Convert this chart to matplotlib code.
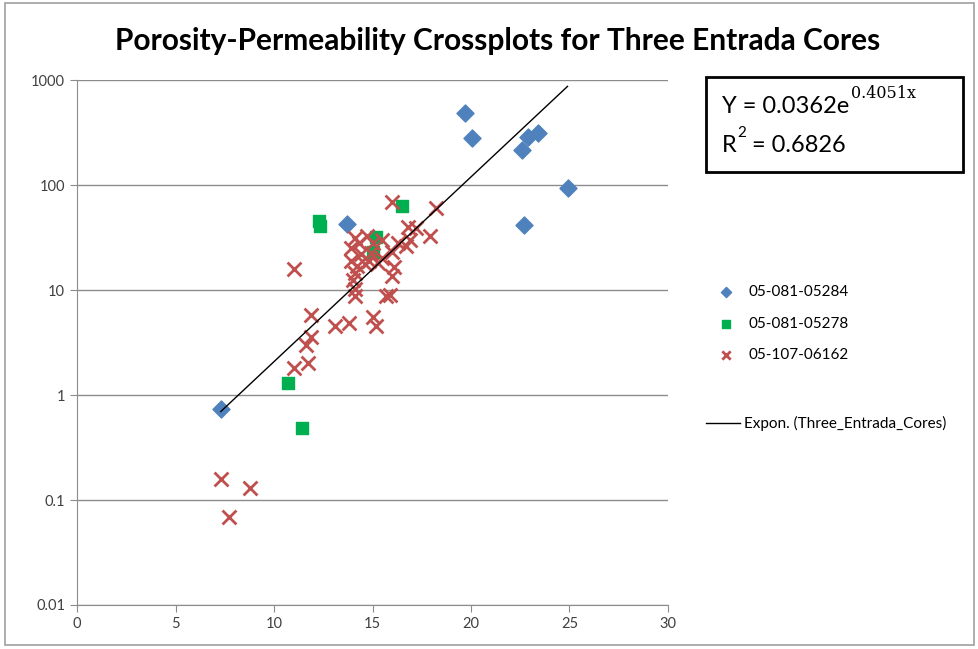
import numpy as np
import matplotlib
matplotlib.use('Agg')
from matplotlib import pyplot as plt
from matplotlib.patches import Rectangle

# porosity (%) / permeability (mD)
x_05284 = [7.3, 13.7, 19.7, 20.05, 22.6, 22.9, 23.4, 22.7, 24.9]
y_05284 = [0.74, 43, 485, 280, 215, 287, 313, 42, 94]

x_05278 = [12.3, 12.35, 16.5, 15.2, 15.0, 10.7, 11.4]
y_05278 = [45, 41, 63, 32, 23, 1.3, 0.48]

x_06162 = [7.3, 7.7, 8.8, 11.0, 11.7, 11.6, 11.9, 11.9, 11.0,
           13.1, 13.8, 14.1, 14.1, 14.0, 14.1, 14.2, 13.9, 13.9, 14.1,
           14.3, 14.4, 14.6, 14.9, 15.0, 15.5, 15.5, 15.0, 15.2, 15.7,
           15.9, 16.0, 16.1, 16.0, 16.0, 16.7, 16.8, 17.2, 17.9, 18.2,
           16.9, 15.3, 14.7, 14.8, 16.3]
y_06162 = [0.16, 0.069, 0.13, 1.8, 2.0, 3.0, 3.6, 5.8, 16,
           4.5, 4.8, 8.7, 10.2, 12.5, 14.5, 17, 19, 25, 31,
           28, 22, 17.5, 22.5, 28, 30, 20, 5.5, 4.5, 8.7,
           9.0, 13.5, 16.5, 23, 69, 26, 40, 39, 33, 60,
           30, 18, 33, 19, 28]

trend_a = 0.0362
trend_b = 0.4051

FONT = 'Lato'

fig = plt.figure(figsize=(9.79, 6.49), dpi=100)
fig.patches.append(Rectangle((0.005, 0.006), 0.99, 0.99, transform=fig.transFigure,
                             fill=False, edgecolor='#a0a0a0', lw=1.2))

ax = fig.add_axes([0.0787, 0.0678, 0.6036, 0.8089])
ax.set_yscale('log')
ax.set_xlim(0, 30)
ax.set_ylim(0.01, 1000)
ax.set_xticks(range(0, 31, 5))
ax.set_yticks([0.01, 0.1, 1, 10, 100, 1000])
ax.set_yticklabels(['0.01', '0.1', '1', '10', '100', '1000'])
ax.minorticks_off()
ax.grid(axis='y', color='#8c8c8c', lw=1)
ax.set_axisbelow(True)
for s in ['top', 'right']:
    ax.spines[s].set_visible(False)
for s in ['left', 'bottom']:
    ax.spines[s].set_color('#8c8c8c')
ax.tick_params(colors='#8c8c8c', labelcolor='#404040', labelsize=10.5, length=5)
for lab in ax.get_xticklabels() + ax.get_yticklabels():
    lab.set_family(FONT)

s1 = ax.scatter(x_05284, y_05284, marker='D', s=75, color='#4f81bd', edgecolors='#4f81bd',
                zorder=3, label='05-081-05284')
s2 = ax.scatter(x_05278, y_05278, marker='s', s=80, color='#00b050', edgecolors='#00b050',
                zorder=3, label='05-081-05278')
s3 = ax.scatter(x_06162, y_06162, marker='x', s=100, color='#c0504d', linewidths=2,
                zorder=4, label='05-107-06162')

all_x = x_05284 + x_05278 + x_06162
xt = np.linspace(min(all_x), max(all_x), 100)
tr, = ax.plot(xt, trend_a * np.exp(trend_b * xt), color='black', lw=1, zorder=5,
              label='Expon. (Three_Entrada_Cores)')

fig.text(0.508, 0.937, 'Porosity-Permeability Crossplots for Three Entrada Cores',
         ha='center', va='center', fontsize=21.5, fontweight='bold', family=FONT)

# equation box
fig.patches.append(Rectangle((706 / 979, 1 - 172 / 649), 257 / 979, 95 / 649,
                             transform=fig.transFigure, fill=False, edgecolor='black', lw=2))
t1 = fig.text(722 / 979, 1 - 113 / 649, 'Y = 0.0362e', fontsize=17, va='baseline', family=FONT)
ax.annotate('0.4051x', xy=(1, 0.72), xycoords=t1, xytext=(1, 0), textcoords='offset points',
            va='bottom', ha='left', fontsize=11.5, family='DejaVu Serif', annotation_clip=False)
fig.text(722 / 979, 1 - 152 / 649, 'R', fontsize=17, va='baseline', family=FONT)
fig.text(737 / 979, 1 - 137 / 649, '2', fontsize=11, va='baseline', family=FONT)
fig.text(752 / 979, 1 - 152 / 649, '= 0.6826', fontsize=17, va='baseline', family=FONT)

fig.legend(handles=[s1, s2, s3], loc='upper left', bbox_to_anchor=(0.712, 0.582),
           frameon=False, labelspacing=1.15, handletextpad=0.5, markerscale=0.6,
           prop={'family': FONT, 'size': 11})
fig.legend(handles=[tr], loc='upper left', bbox_to_anchor=(0.707, 0.38),
           frameon=False, handlelength=2.2, handletextpad=0.3,
           prop={'family': FONT, 'size': 11})

plt.savefig('out.png', dpi=100)
